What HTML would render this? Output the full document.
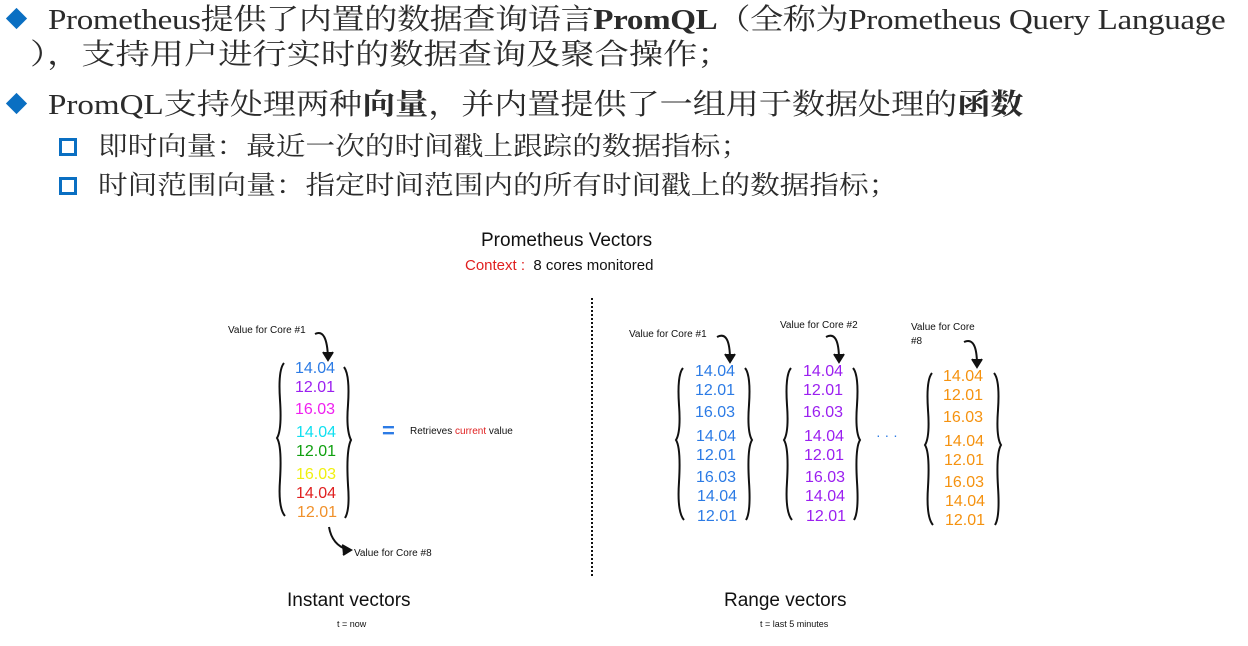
<!DOCTYPE html>
<html><head><meta charset="utf-8"><style>
body{margin:0;width:1248px;height:646px;background:#fff;position:relative;overflow:hidden;font-family:"Liberation Serif","Noto Serif CJK SC",serif;color:#2b2b2b}
.t{position:absolute;white-space:nowrap;line-height:1}
.x{transform-origin:0 0;transform:scaleX(1.14)}
.d{position:absolute;width:15px;height:15px;background:#0a6fc2;transform:rotate(45deg)}
.sq{position:absolute;width:12px;height:12px;border:3px solid #0a6fc2}
.s{font-family:"Liberation Sans","DejaVu Sans",sans-serif;color:#111}
.n{position:absolute;font-family:"Liberation Sans",sans-serif;font-size:16px;line-height:1;transform:translate(-50%,-50%)}
</style></head><body>
<div class="d" style="left:9px;top:11px"></div>
<div class="t x" style="left:48px;top:6px;font-size:29px;letter-spacing:-0.3px">Prometheus提供了内置的数据查询语言<b>PromQL</b>（全称为Prometheus Query Language</div>
<div class="t x" style="left:30px;top:41px;font-size:29px;transform:scaleX(1.18)">），支持用户进行实时的数据查询及聚合操作；</div>
<div class="d" style="left:9px;top:96px"></div>
<div class="t x" style="left:48px;top:91px;font-size:29px">PromQL支持处理两种<b>向量</b>，并内置提供了一组用于数据处理的<b>函数</b></div>
<div class="sq" style="left:59px;top:138px"></div>
<div class="t x" style="left:98px;top:134px;font-size:26px">即时向量：最近一次的时间戳上跟踪的数据指标；</div>
<div class="sq" style="left:59px;top:177px"></div>
<div class="t x" style="left:98px;top:173px;font-size:26px">时间范围向量：指定时间范围内的所有时间戳上的数据指标；</div>

<div class="t s" style="left:481px;top:231px;font-size:19px">Prometheus Vectors</div>
<div class="t s" style="left:465px;top:258px;font-size:15px"><span style="color:#e02020">Context :</span>&nbsp; 8 cores monitored</div>

<div class="t s" style="left:228px;top:326px;font-size:10px">Value for Core #1</div>
<div class="t s" style="left:354px;top:549px;font-size:10px">Value for Core #8</div>
<div class="t s" style="left:410px;top:427px;font-size:10px">Retrieves <span style="color:#e02020">current</span> value</div>
<div class="t s" style="left:382px;top:420px;font-size:22px;color:#2c7be5;font-weight:bold">=</div>
<div class="t s" style="left:629px;top:330px;font-size:10px">Value for Core #1</div>
<div class="t s" style="left:780px;top:321px;font-size:10px">Value for Core #2</div>
<div class="t s" style="left:911px;top:321px;font-size:10px;line-height:14px">Value for Core<br>#8</div>
<div class="t s" style="left:876px;top:428px;font-size:14px;color:#2c7be5">· · ·</div>

<div class="t s" style="left:287px;top:591px;font-size:19px">Instant vectors</div>
<div class="t s" style="left:337px;top:620px;font-size:9px">t = now</div>
<div class="t s" style="left:724px;top:591px;font-size:19px">Range vectors</div>
<div class="t s" style="left:760px;top:620px;font-size:9px">t = last 5 minutes</div>

<svg width="1248" height="646" style="position:absolute;left:0;top:0" fill="none" stroke="#111" stroke-width="2">
<line x1="592" y1="298" x2="592" y2="576" stroke-dasharray="2,2" stroke-width="2"/>
<path d="M284 363 Q278 370 280 400 Q282 430 277 438 Q282 446 280 480 Q278 508 285 516"/>
<path d="M344 367 Q350 375 348 405 Q346 430 351 440 Q346 450 348 485 Q350 510 345 518"/>
<path d="M683 368 Q677 375 679 405 Q681 432 676 440 Q681 448 679 482 Q677 512 684 520"/>
<path d="M745 368 Q751 375 749 405 Q747 432 752 440 Q747 448 749 482 Q751 512 746 520"/>
<path d="M791 368 Q785 375 787 405 Q789 432 784 440 Q789 448 787 482 Q785 512 792 520"/>
<path d="M853 368 Q859 375 857 405 Q855 432 860 440 Q855 448 857 482 Q859 512 854 520"/>
<path d="M932 373 Q926 380 928 410 Q930 437 925 445 Q930 453 928 487 Q926 517 933 525"/>
<path d="M994 373 Q1000 380 998 410 Q996 437 1001 445 Q996 453 998 487 Q1000 517 995 525"/>
<path d="M315 334 Q327 328 328 358"/><path d="M323 352 L328 360 L333 352" fill="#111"/>
<path d="M329 527 Q332 545 348 550"/><path d="M342 545 L351 550 L343 555" fill="#111"/>
<path d="M717 337 Q730 330 730 360"/><path d="M725 354 L730 362 L735 354" fill="#111"/>
<path d="M826 337 Q839 330 839 360"/><path d="M834 354 L839 362 L844 354" fill="#111"/>
<path d="M964 342 Q977 336 977 365"/><path d="M972 359 L977 367 L982 359" fill="#111"/>
</svg>

<div class="n" style="left:315px;top:369px;color:#2c7be5">14.04</div>
<div class="n" style="left:315px;top:388px;color:#9b1ff0">12.01</div>
<div class="n" style="left:315px;top:410px;color:#f020f0">16.03</div>
<div class="n" style="left:316px;top:433px;color:#10e0f0">14.04</div>
<div class="n" style="left:316px;top:452px;color:#10a010">12.01</div>
<div class="n" style="left:316px;top:475px;color:#f0f010">16.03</div>
<div class="n" style="left:316px;top:494px;color:#e02020">14.04</div>
<div class="n" style="left:317px;top:513px;color:#f0902a">12.01</div>

<div class="n" style="left:715px;top:372px;color:#2c7be5">14.04</div>
<div class="n" style="left:715px;top:391px;color:#2c7be5">12.01</div>
<div class="n" style="left:715px;top:413px;color:#2c7be5">16.03</div>
<div class="n" style="left:716px;top:437px;color:#2c7be5">14.04</div>
<div class="n" style="left:716px;top:456px;color:#2c7be5">12.01</div>
<div class="n" style="left:716px;top:478px;color:#2c7be5">16.03</div>
<div class="n" style="left:717px;top:497px;color:#2c7be5">14.04</div>
<div class="n" style="left:717px;top:517px;color:#2c7be5">12.01</div>

<div class="n" style="left:823px;top:372px;color:#9b1ff0">14.04</div>
<div class="n" style="left:823px;top:391px;color:#9b1ff0">12.01</div>
<div class="n" style="left:823px;top:413px;color:#9b1ff0">16.03</div>
<div class="n" style="left:824px;top:437px;color:#9b1ff0">14.04</div>
<div class="n" style="left:824px;top:456px;color:#9b1ff0">12.01</div>
<div class="n" style="left:825px;top:478px;color:#9b1ff0">16.03</div>
<div class="n" style="left:825px;top:497px;color:#9b1ff0">14.04</div>
<div class="n" style="left:826px;top:517px;color:#9b1ff0">12.01</div>

<div class="n" style="left:963px;top:377px;color:#f5920f">14.04</div>
<div class="n" style="left:963px;top:396px;color:#f5920f">12.01</div>
<div class="n" style="left:963px;top:418px;color:#f5920f">16.03</div>
<div class="n" style="left:964px;top:442px;color:#f5920f">14.04</div>
<div class="n" style="left:964px;top:461px;color:#f5920f">12.01</div>
<div class="n" style="left:964px;top:483px;color:#f5920f">16.03</div>
<div class="n" style="left:965px;top:502px;color:#f5920f">14.04</div>
<div class="n" style="left:965px;top:521px;color:#f5920f">12.01</div>
</body></html>
